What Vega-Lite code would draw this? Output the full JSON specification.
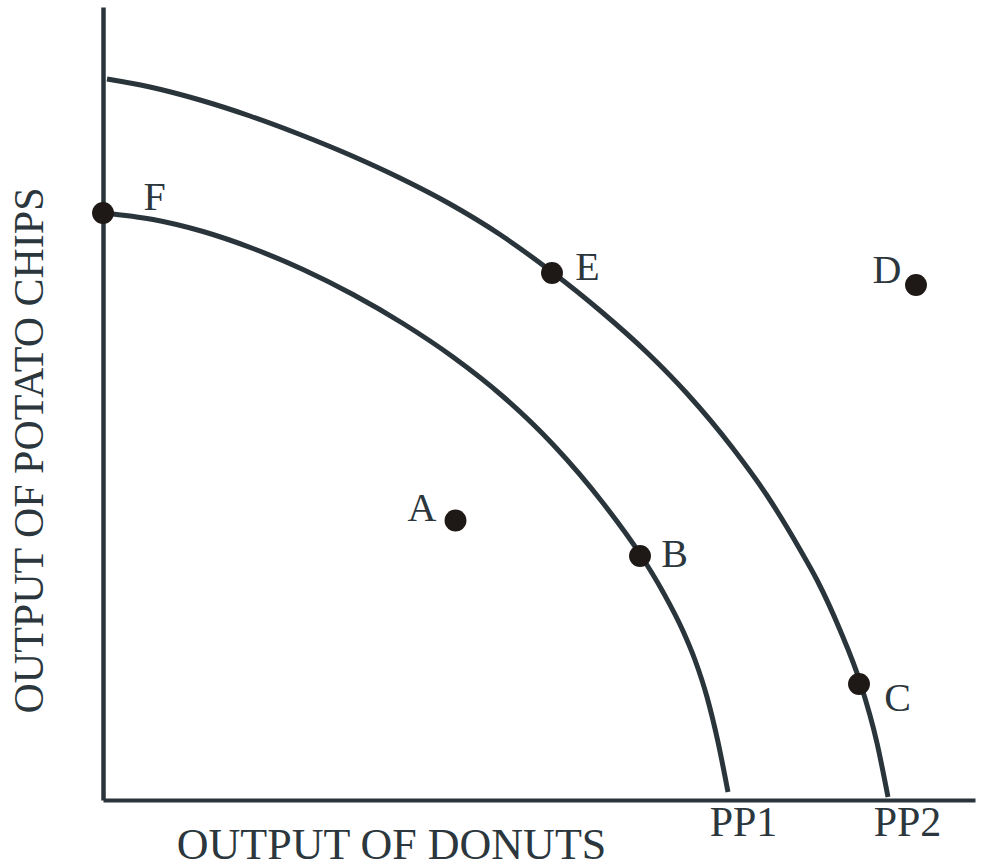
{
  "$schema": "https://vega.github.io/schema/vega-lite/v6.json",
  "autosize": {"type": "none"},
  "width": 872,
  "height": 793,
  "padding": {"top": 7, "left": 103, "right": 11, "bottom": 67},
  "background": "white",
  "config": {"view": {"stroke": null}, "font": "Liberation Serif"},
  "datasets": {
    "curves": [
      {"curve": "PP1", "donuts": 0, "chips": 587},
      {"curve": "PP1", "donuts": 50, "chips": 580.5},
      {"curve": "PP1", "donuts": 100, "chips": 568.5},
      {"curve": "PP1", "donuts": 150, "chips": 551.5},
      {"curve": "PP1", "donuts": 200, "chips": 530.5},
      {"curve": "PP1", "donuts": 250, "chips": 505.5},
      {"curve": "PP1", "donuts": 300, "chips": 476.5},
      {"curve": "PP1", "donuts": 350, "chips": 443},
      {"curve": "PP1", "donuts": 400, "chips": 403.5},
      {"curve": "PP1", "donuts": 450, "chips": 355.5},
      {"curve": "PP1", "donuts": 500, "chips": 297},
      {"curve": "PP1", "donuts": 537, "chips": 246},
      {"curve": "PP1", "donuts": 560, "chips": 208},
      {"curve": "PP1", "donuts": 580, "chips": 169},
      {"curve": "PP1", "donuts": 592, "chips": 140},
      {"curve": "PP1", "donuts": 604, "chips": 103},
      {"curve": "PP1", "donuts": 615, "chips": 58},
      {"curve": "PP1", "donuts": 625, "chips": 8},
      {"curve": "PP2", "donuts": 4, "chips": 721},
      {"curve": "PP2", "donuts": 47, "chips": 713},
      {"curve": "PP2", "donuts": 97, "chips": 700},
      {"curve": "PP2", "donuts": 147, "chips": 684},
      {"curve": "PP2", "donuts": 197, "chips": 665.5},
      {"curve": "PP2", "donuts": 247, "chips": 645},
      {"curve": "PP2", "donuts": 297, "chips": 622},
      {"curve": "PP2", "donuts": 347, "chips": 596},
      {"curve": "PP2", "donuts": 397, "chips": 565.5},
      {"curve": "PP2", "donuts": 449, "chips": 528},
      {"curve": "PP2", "donuts": 497, "chips": 489.5},
      {"curve": "PP2", "donuts": 544, "chips": 447.5},
      {"curve": "PP2", "donuts": 584, "chips": 406.5},
      {"curve": "PP2", "donuts": 630, "chips": 351.5},
      {"curve": "PP2", "donuts": 664, "chips": 304.5},
      {"curve": "PP2", "donuts": 697, "chips": 250.5},
      {"curve": "PP2", "donuts": 714, "chips": 220},
      {"curve": "PP2", "donuts": 737, "chips": 170},
      {"curve": "PP2", "donuts": 757, "chips": 118},
      {"curve": "PP2", "donuts": 774, "chips": 57},
      {"curve": "PP2", "donuts": 785, "chips": 3}
    ],
    "points": [
      {"point": "F", "donuts": 0, "chips": 587, "labelDonuts": 51.5, "labelChips": 603.5},
      {"point": "E", "donuts": 449, "chips": 527, "labelDonuts": 484.5, "labelChips": 533.5},
      {"point": "D", "donuts": 813, "chips": 515, "labelDonuts": 784, "labelChips": 530.5},
      {"point": "A", "donuts": 352.5, "chips": 279.5, "labelDonuts": 319, "labelChips": 292.5},
      {"point": "B", "donuts": 537, "chips": 244, "labelDonuts": 571.5, "labelChips": 246.5},
      {"point": "C", "donuts": 756, "chips": 116, "labelDonuts": 794.5, "labelChips": 102.5}
    ]
  },
  "layer": [
    {
      "data": {"name": "curves"},
      "mark": {"type": "line", "interpolate": "monotone", "stroke": "#2a353b", "strokeWidth": 5, "clip": false},
      "encoding": {
        "x": {
          "field": "donuts", "type": "quantitative",
          "scale": {"domain": [0, 872], "nice": false, "zero": false},
          "axis": {
            "title": "OUTPUT OF DONUTS",
            "titleFont": "Liberation Serif", "titleFontSize": 44, "titleFontWeight": "normal",
            "titleColor": "#2b373d", "titleX": 288, "titleY": 58, "titleBaseline": "alphabetic", "titleAlign": "center", "titleAnchor": null,
            "domainColor": "#2a353b", "domainWidth": 4,
            "ticks": false, "tickSize": 0, "grid": false,
            "values": [640, 804],
            "labelExpr": "datum.value < 700 ? 'PP1' : 'PP2'",
            "labelFont": "Liberation Serif", "labelFontSize": 42, "labelColor": "#2b373d",
            "labelBaseline": "alphabetic", "labelPadding": 35, "labelAlign": "center",
            "labelOverlap": false, "labelBound": false, "labelFlush": false
          }
        },
        "y": {
          "field": "chips", "type": "quantitative",
          "scale": {"domain": [0, 793], "nice": false, "zero": false},
          "axis": {
            "title": "OUTPUT OF POTATO CHIPS",
            "titleFont": "Liberation Serif", "titleFontSize": 42, "titleFontWeight": "normal",
            "titleColor": "#2b373d", "titleAngle": -90, "titleX": -61, "titleY": 443,
            "titleBaseline": "alphabetic", "titleAlign": "center", "titleAnchor": null,
            "domainColor": "#2a353b", "domainWidth": 4.5,
            "ticks": false, "labels": false, "grid": false
          }
        },
        "detail": {"field": "curve", "type": "nominal"}
      }
    },
    {
      "data": {"name": "points"},
      "mark": {"type": "circle", "size": 480, "color": "#1e1916", "opacity": 1, "clip": false},
      "encoding": {
        "x": {"field": "donuts", "type": "quantitative"},
        "y": {"field": "chips", "type": "quantitative"}
      }
    },
    {
      "data": {"name": "points"},
      "mark": {"type": "text", "font": "Liberation Serif", "fontSize": 40, "color": "#2b373d", "align": "center", "baseline": "middle", "dy": 1},
      "encoding": {
        "x": {"field": "labelDonuts", "type": "quantitative"},
        "y": {"field": "labelChips", "type": "quantitative"},
        "text": {"field": "point", "type": "nominal"}
      }
    }
  ]
}
